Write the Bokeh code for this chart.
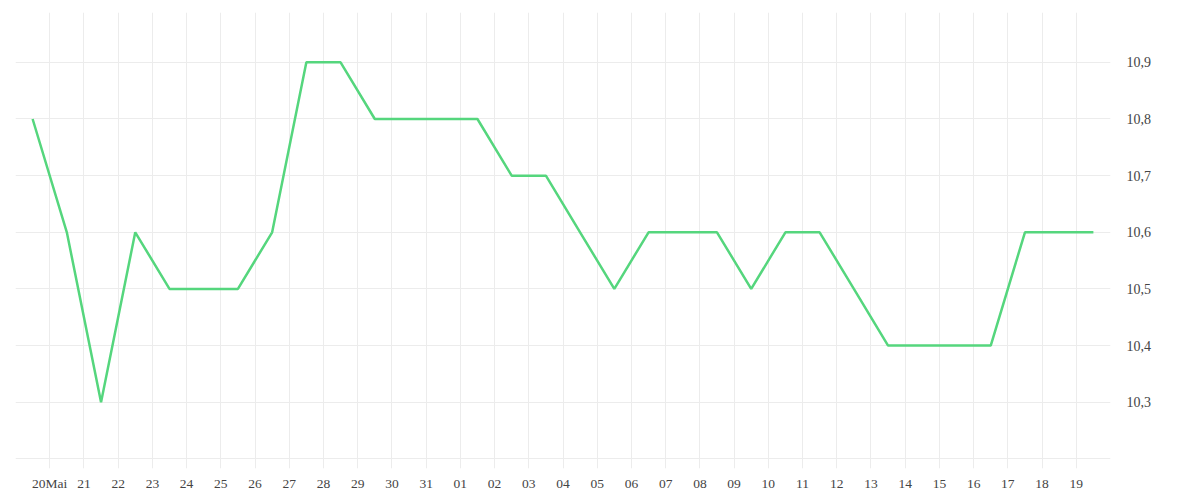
import pandas as pd
from bokeh.plotting import figure
from bokeh.models import FixedTicker, Range1d
from bokeh.embed import file_html
from bokeh.resources import INLINE

# ---- data ----
dates = pd.date_range("2024-05-19 12:00", periods=32, freq="D")
values = [10.8, 10.6, 10.3, 10.6, 10.5, 10.5, 10.5, 10.6, 10.9, 10.9,
          10.8, 10.8, 10.8, 10.8, 10.7, 10.7, 10.6, 10.5, 10.6, 10.6,
          10.6, 10.5, 10.6, 10.6, 10.5, 10.4, 10.4, 10.4, 10.4, 10.6,
          10.6, 10.6]

x_tick_dates = pd.date_range("2024-05-19", "2024-06-20", freq="D")
x_tick_labels = ["", "20Mai", "21", "22", "23", "24", "25", "26", "27", "28", "29",
                 "30", "31", "01", "02", "03", "04", "05", "06", "07", "08",
                 "09", "10", "11", "12", "13", "14", "15", "16", "17", "18", "19", ""]

y_ticks = [10.2, 10.3, 10.4, 10.5, 10.6, 10.7, 10.8, 10.9]
y_tick_labels = ["", "10,3", "10,4", "10,5", "10,6", "10,7", "10,8", "10,9"]

x_start = pd.Timestamp("2024-05-19")
x_end = pd.Timestamp("2024-06-20")
y_min, y_max = 10.183, 10.988

FONT = "Liberation Serif"
TEXT_COLOR = "#444444"
GRID = "#ececec"

def ms(ts):
    return float(pd.Timestamp(ts).value // 10**6)

p = figure(
    x_axis_type="datetime",
    y_axis_location="right",
    frame_width=1095, frame_height=456,
    min_border_left=15, min_border_top=12, min_border_bottom=0, min_border_right=10,
    output_backend="svg", toolbar_location=None,
    x_range=Range1d(ms(x_start), ms(x_end)),
    y_range=Range1d(y_min, y_max),
)
p.outline_line_color = None
p.background_fill_color = "white"
p.border_fill_color = "white"

p.line([ms(d) for d in dates], values, line_color="#55d67d", line_width=2.5)

xt = [ms(d) for d in x_tick_dates]
p.xaxis.ticker = FixedTicker(ticks=xt)
p.xaxis.major_label_overrides = {t: l for t, l in zip(xt, x_tick_labels)}
p.yaxis.ticker = FixedTicker(ticks=y_ticks)
p.yaxis.major_label_overrides = {t: l for t, l in zip(y_ticks, y_tick_labels)}

for ax in (p.xaxis, p.yaxis):
    ax.axis_line_color = None
    ax.major_tick_line_color = None
    ax.minor_tick_line_color = None
    ax.major_tick_out = 0
    ax.major_tick_in = 0
    ax.major_label_text_font = FONT
    ax.major_label_text_color = TEXT_COLOR
p.xaxis.major_label_text_font_size = "13.5px"
p.yaxis.major_label_text_font_size = "14px"
p.xaxis.major_label_standoff = 7
p.yaxis.major_label_standoff = 16
p.yaxis.major_label_text_align = "left"

p.xgrid.grid_line_color = GRID
p.ygrid.grid_line_color = GRID
p.xgrid.grid_line_width = 1
p.ygrid.grid_line_width = 1

open("out.html", "w").write(file_html(p, INLINE))
